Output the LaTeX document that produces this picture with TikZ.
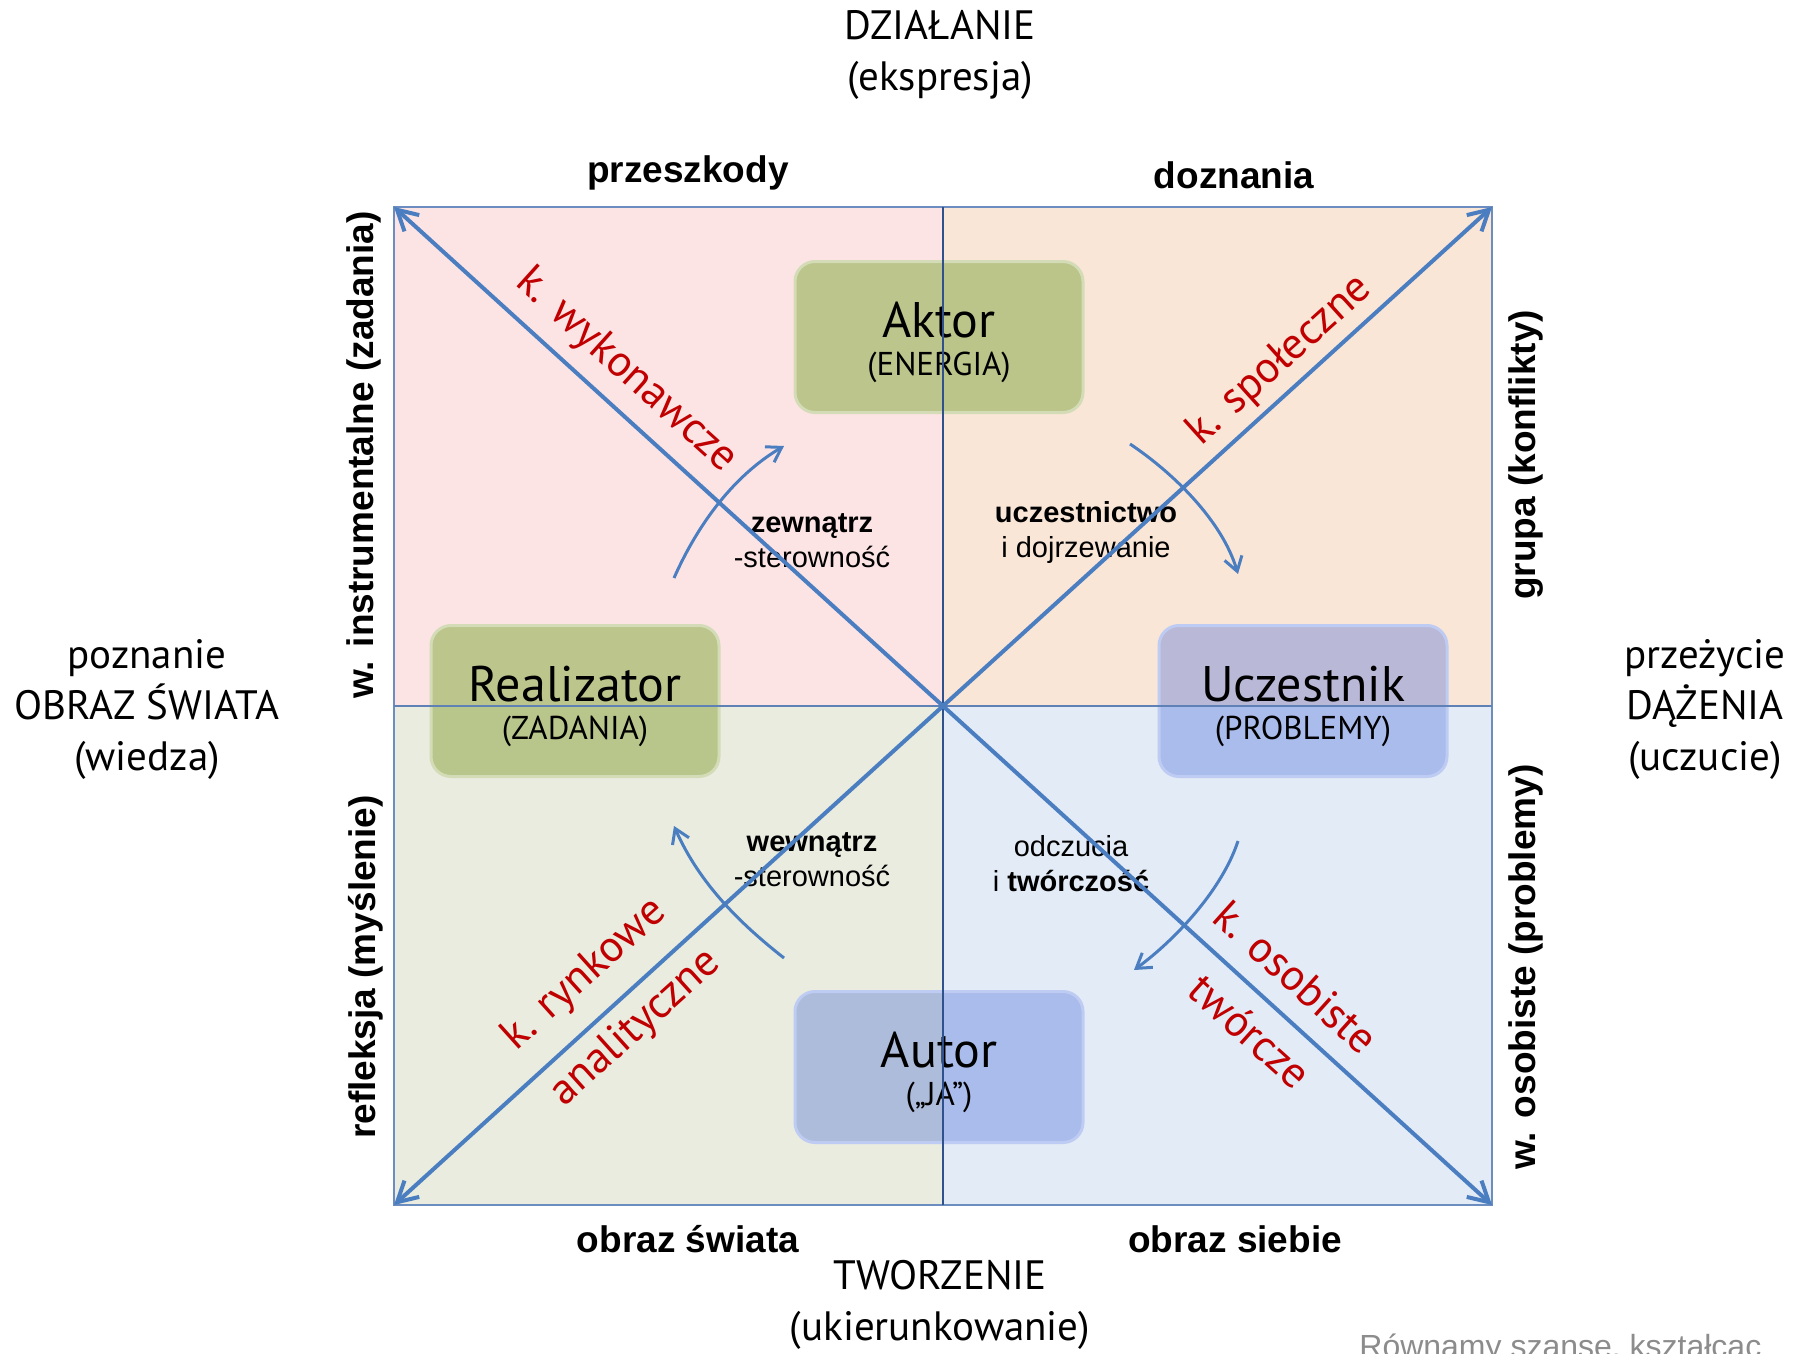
\documentclass[tikz,border=0pt]{standalone}
\usepackage{fontspec}
\setmainfont{PT Sans}
\newfontfamily\arialfont{Liberation Sans}
\usepackage{xcolor}
\usepackage{tikz}
\usetikzlibrary{arrows.meta, positioning, calc}

\definecolor{kwRoz}{HTML}{FDE4E4}
\definecolor{kwBrz}{HTML}{FAE6D7}
\definecolor{kwZiel}{HTML}{E9ECDF}
\definecolor{kwNieb}{HTML}{E3EBF6}
\definecolor{ramka}{HTML}{6C8DBF}
\definecolor{krzyz}{HTML}{2F528F}
\definecolor{strzalka}{HTML}{4A7EC0}
\definecolor{czerwien}{HTML}{C00000}
\definecolor{zielen}{HTML}{B0C07D}
\definecolor{blekit}{HTML}{2850D8}

\begin{document}
\begin{tikzpicture}[x=0.5pt,y=-0.5pt,
    >={Straight Barb[length=10pt,width=11pt]},
    tytul/.style={font=\fontsize{20.5}{25.5}\selectfont,align=center},
    etykieta/.style={font=\arialfont\bfseries\fontsize{18.5}{22}\selectfont},
    opis/.style={font=\arialfont\fontsize{14.5}{17.5}\selectfont,align=center},
    kompetencja/.style={text=czerwien,font=\fontsize{22}{26}\selectfont},
    blokZ/.style={rounded corners=10pt,fill=zielen,fill opacity=0.85,text opacity=1,
        draw=white!45!zielen,line width=1.5pt,minimum width=144pt,minimum height=75.5pt,align=center},
    blokN/.style={rounded corners=10pt,fill=blekit,fill opacity=0.3,text opacity=1,
        draw=white!70!blekit,line width=1.5pt,minimum width=144pt,minimum height=75.5pt,align=center},
    diag/.style={strzalka,line width=2pt},
    luk/.style={strzalka,line width=1.5pt,>={Straight Barb[length=7pt,width=9pt]}}]
    \useasboundingbox (0,0) rectangle (1806,1354);

    % Naroza i srodek
    \coordinate (lg) at (394,207);
    \coordinate (pg) at (1492,207);
    \coordinate (ld) at (394,1205);
    \coordinate (pd) at (1492,1205);
    \coordinate (s) at (943,706);

    % Cwiartki
    \fill[kwRoz] (lg) rectangle (s);
    \fill[kwBrz] (s |- lg) rectangle (pg |- s);
    \fill[kwZiel] (lg |- s) rectangle (s |- ld);
    \fill[kwNieb] (s) rectangle (pd);

    % Role
    \node[blokZ] (aktor) at (939,337) {\fontsize{25}{18}\selectfont\rule{0pt}{23pt}Aktor\\[6pt] \fontsize{16.5}{18}\selectfont (ENERGIA)};
    \node[blokZ] (realizator) at (575,701) {\fontsize{25}{18}\selectfont\rule{0pt}{23pt}Realizator\\[6pt] \fontsize{16.5}{18}\selectfont (ZADANIA)};
    \node[blokN] (uczestnik) at (1303,701) {\fontsize{25}{18}\selectfont\rule{0pt}{23pt}Uczestnik\\[6pt] \fontsize{16.5}{18}\selectfont (PROBLEMY)};
    \node[blokN] (autor) at (939,1067) {\fontsize{25}{18}\selectfont\rule{0pt}{23pt}Autor\\[6pt] \fontsize{16.5}{18}\selectfont (\char"201E JA\char"201D)};

    % Ramka i krzyz
    \draw[ramka,line width=1pt] (lg) rectangle (pd);
    \draw[krzyz,line width=1pt] (s |- lg) -- (s |- ld);
    \draw[ramka!80!krzyz,line width=1pt] (lg |- s) -- (pg |- s);

    % Opisy w srodku
    \node[opis] (zew) at (812,541) {\textbf{zewnątrz}\\-sterowność};
    \node[opis] (ucz) at (1086,532) {\textbf{uczestnictwo}\\i dojrzewanie};
    \node[opis] (wew) at (812,860) {\textbf{wewnątrz}\\-sterowność};
    \node[opis] (odcz) at (1071,864) {odczucia\\i \textbf{twórczość}};

    % Przekatne
    \draw[diag,<->] (lg) -- (pd);
    \draw[diag,<->] (ld) -- (pg);

    % Kompetencje
    \node[kompetencja,rotate=-42] (kw) at (626,371) {k. wykonawcze};
    \node[kompetencja,rotate=42] (ks) at (1280,361) {k. społeczne};
    \node[kompetencja,rotate=42] (kr) at (585,975) {k. rynkowe};
    \node[kompetencja,rotate=42] (ka) at (636,1028) {analityczne};
    \node[kompetencja,rotate=-42] (ko) at (1296,977) {k. osobiste};
    \node[kompetencja,rotate=-42] (kt) at (1250,1031) {twórcze};

    % Luki
    \coordinate (l1a) at (674,578); \coordinate (l1b) at (784,446);
    \coordinate (l2a) at (1130,444); \coordinate (l2b) at (1238,574);
    \coordinate (l3a) at (784,958); \coordinate (l3b) at (674,826);
    \coordinate (l4a) at (1238,841); \coordinate (l4b) at (1134,970);
    \draw[luk,->] (l1a) .. controls (702,515) and (740,472) .. (l1b);
    \draw[luk,->] (l2a) .. controls (1172,472) and (1222,520) .. (l2b);
    \draw[luk,->] (l3a) .. controls (742,925) and (700,885) .. (l3b);
    \draw[luk,->] (l4a) .. controls (1222,890) and (1175,940) .. (l4b);

    % Osie
    \node[tytul] (dzialanie) at (940,55) {DZIAŁANIE\\(ekspresja)};
    \node[tytul] (tworzenie) at (940,1305) {TWORZENIE\\(ukierunkowanie)};
    \node[tytul] (poznanie) at (147,709) {poznanie\\OBRAZ ŚWIATA\\(wiedza)};
    \node[tytul] (przezycie) at (1705,709) {przeżycie\\DĄŻENIA\\(uczucie)};

    % Etykiety boczne
    \node[etykieta] (przeszkody) at (688,173) {przeszkody};
    \node[etykieta] (doznania) at (1234,175) {doznania};
    \node[etykieta] (obrazS) at (688,1239) {obraz świata};
    \node[etykieta] (obrazJ) at (1235,1239) {obraz siebie};
    \node[etykieta,rotate=90] (winstr) at (364,455) {w. instrumentalne (zadania)};
    \node[etykieta,rotate=90] (reflek) at (366,967) {refleksja (myślenie)};
    \node[etykieta,rotate=90] (grupa) at (1526,455) {grupa (konflikty)};
    \node[etykieta,rotate=90] (wosob) at (1526,967) {w. osobiste (problemy)};

    % Stopka
    \node[anchor=base west,text=black!45,font=\arialfont\fontsize{16}{19}\selectfont,inner sep=0pt] (stopka) at (1359,1357) {Równamy szanse, kształcąc};
\end{tikzpicture}
\end{document}
